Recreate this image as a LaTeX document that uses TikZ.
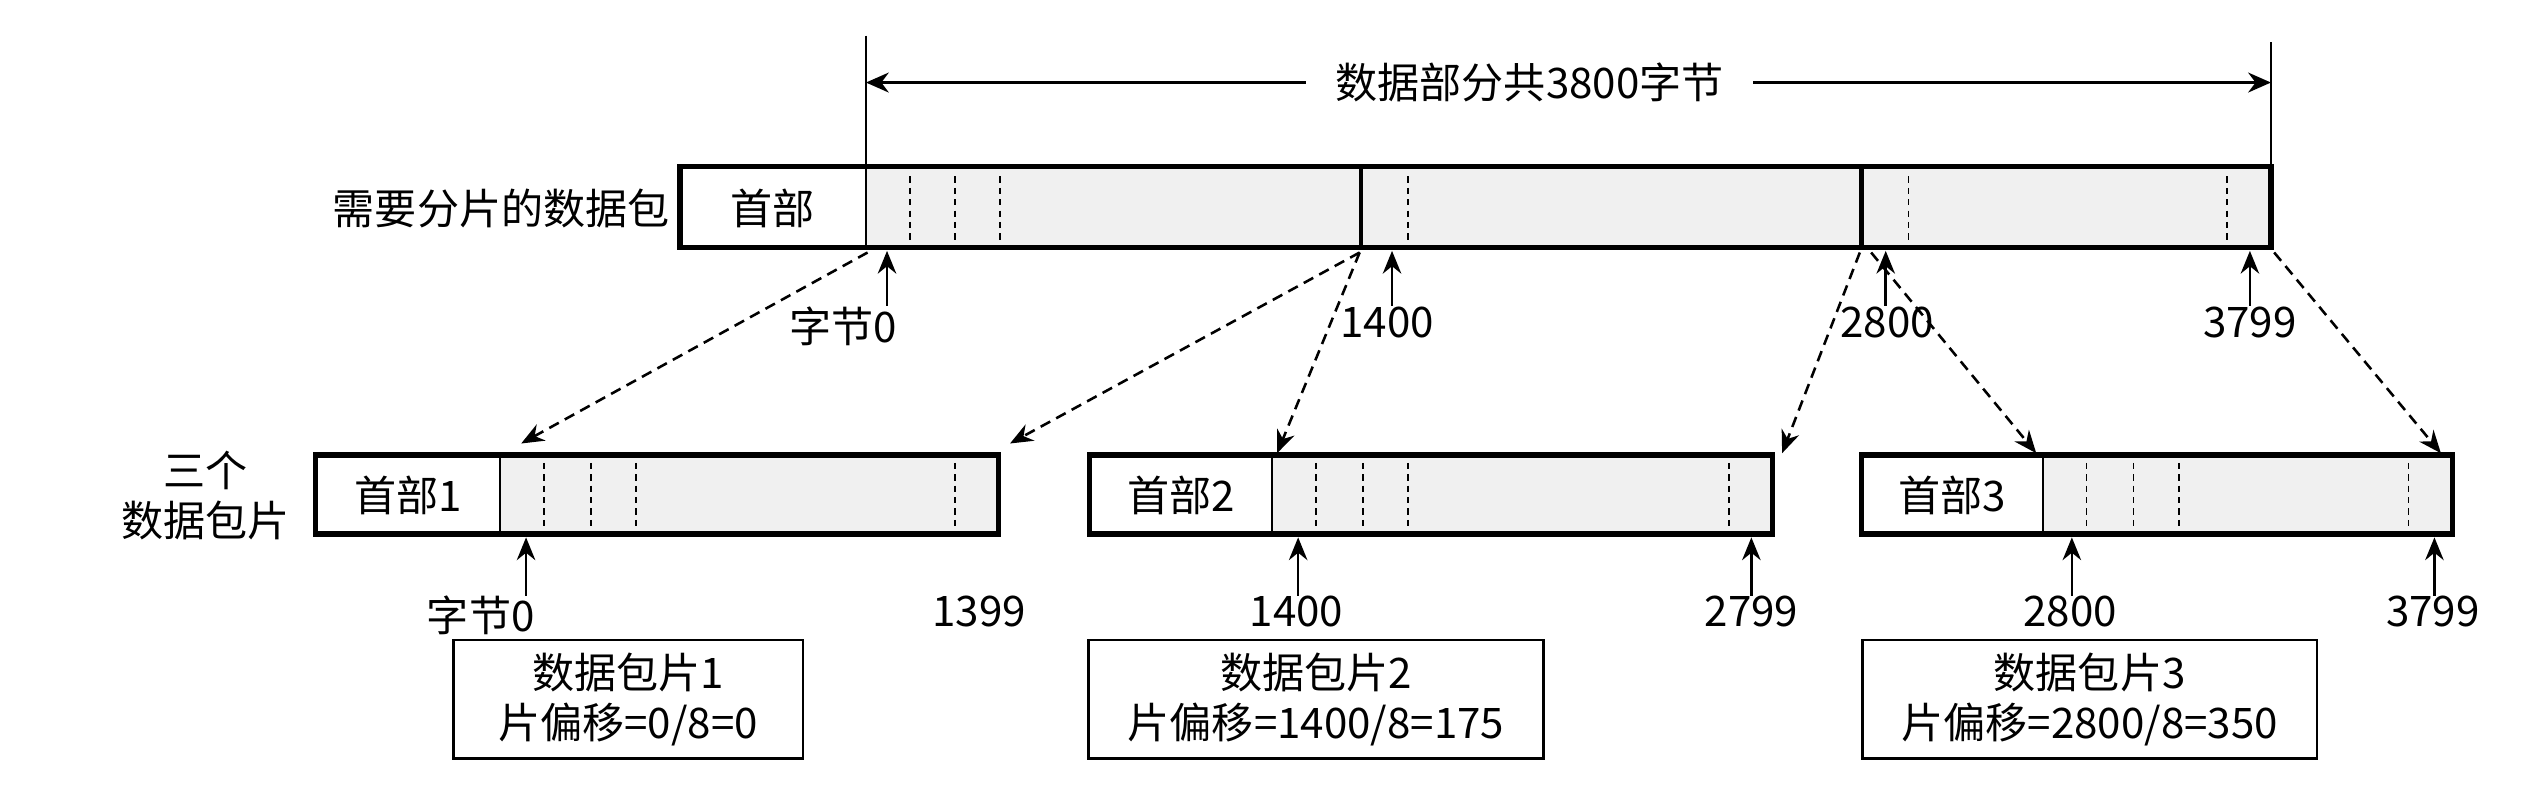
\documentclass[tikz,border=0pt]{standalone}
\usepackage{fontspec}
\setmainfont{Noto Sans CJK SC}
\usetikzlibrary{arrows.meta}
\definecolor{pktgray}{HTML}{F0F0F0}

\begin{document}
\begin{tikzpicture}[x=0.02cm, y=-0.02cm, font=\fontsize{14.8}{17.6}\selectfont,
    barframe/.style={line width=1.9pt},
    cutline/.style={line width=1.5pt},
    hdrline/.style={line width=0.8pt},
    byteline/.style={line width=0.6pt, dash pattern=on 2.2pt off 1.8pt},
    ptr/.style={line width=0.9pt, -{Stealth[length=8pt, width=6.5pt]}},
    maparrow/.style={line width=0.9pt, dash pattern=on 3.8pt off 2.4pt, -{Stealth[length=8pt, width=6.5pt]}},
    numlbl/.style={inner sep=0pt, anchor=north},
    infobox/.style={draw, line width=0.9pt, minimum width=#1, minimum height=1.46cm, align=center}]
  \useasboundingbox (0,0) rectangle (1568,489);

  % total length of the data part
  \coordinate (topL) at (535,22);
  \coordinate (topR) at (1403,26);
  \coordinate (barL) at (535,103);
  \coordinate (barR) at (1403,103);
  \draw[line width=0.6pt] (topL) -- (barL);
  \draw[line width=0.6pt] (topR) -- (barR);
  \coordinate (dimL) at (535,51);
  \coordinate (dimR) at (1403,51);
  \node[inner xsep=0.36cm] (total) at (945,51) {数据部分共3800字节};
  \draw[line width=1pt, -{Stealth[length=8pt, width=7pt]}] (total) -- (dimL);
  \draw[line width=1pt, -{Stealth[length=8pt, width=7pt]}] (total) -- (dimR);

  % packet to be fragmented
  \fill[pktgray] (535,103) rectangle (1403,153);
  \foreach \x in {562,590,618,870,1179,1376}
    \draw[byteline] (\x,109) -- (\x,148);
  \draw[cutline] (841,103) -- (841,153) (1150,103) -- (1150,153);
  \draw[hdrline] (535,103) -- (535,153);
  \draw[barframe] (420,103) rectangle (1403,153);
  \node (mainhdr) at (477,129) {首部};
  \node[anchor=east, inner sep=0pt] (mainlbl) at (414,129) {需要分片的数据包};

  % byte numbers of the packet
  \coordinate (m0) at (548,155);
  \coordinate (m1) at (860,155);
  \coordinate (m2) at (1165,155);
  \coordinate (m3) at (1390,155);
  \node[numlbl] (m0lbl) at (521,189) {字节0};
  \node[numlbl] (m1lbl) at (857,189) {1400};
  \node[numlbl] (m2lbl) at (1166,189) {2800};
  \node[numlbl] (m3lbl) at (1390,189) {3799};
  \foreach \i in {0,...,3}
    \draw[ptr] (m\i lbl.north -| m\i) -- (m\i);

  % the three fragments
  \foreach \l/\h/\r/\n in {195/309/617/1, 673/786/1095/2, 1150/1262/1515/3}{
    \fill[pktgray] (\h,281) rectangle (\r,330);
    \foreach \d in {27,56,84}
      \draw[byteline] (\h+\d,286) -- (\h+\d,325);
    \draw[byteline] (\r-27,286) -- (\r-27,325);
    \draw[hdrline] (\h,281) -- (\h,330);
    \draw[barframe] (\l,281) rectangle (\r,330);
    \node (fhdr\n) at ({(\l+\h)/2},306) {首部\n};
  }
  \node[align=center] (fraglbl) at (127,306) {三个\\数据包片};

  % where the pieces go
  \coordinate (cut0) at (536,156);
  \coordinate (cut1) at (840,156);
  \coordinate (cut2) at (1149,156);
  \coordinate (cut2b) at (1156,156);
  \coordinate (cut3) at (1405,156);
  \coordinate (f1a) at (322,274);
  \coordinate (f1b) at (624,274);
  \coordinate (f2a) at (789,280);
  \coordinate (f2b) at (1101,280);
  \coordinate (f3a) at (1258,280);
  \coordinate (f3b) at (1508,280);
  \draw[maparrow] (cut0) -- (f1a);
  \draw[maparrow] (cut1) -- (f1b);
  \draw[maparrow] (cut1) -- (f2a);
  \draw[maparrow] (cut2) -- (f2b);
  \draw[maparrow] (cut2b) -- (f3a);
  \draw[maparrow] (cut3) -- (f3b);

  % byte numbers of the fragments
  \coordinate (f1p) at (325,332);
  \coordinate (f2p) at (802,332);
  \coordinate (f2q) at (1082,332);
  \coordinate (f3p) at (1280,332);
  \coordinate (f3q) at (1504,332);
  \node[numlbl] (f1lo) at (297,368) {字节0};
  \node[numlbl] (f1hi) at (605,368) {1399};
  \node[numlbl] (f2lo) at (801,368) {1400};
  \node[numlbl] (f2hi) at (1082,368) {2799};
  \node[numlbl] (f3lo) at (1279,368) {2800};
  \node[numlbl] (f3hi) at (1503,368) {3799};
  \draw[ptr] (f1lo.north -| f1p) -- (f1p);
  \draw[ptr] (f2lo.north -| f2p) -- (f2p);
  \draw[ptr] (f2hi.north -| f2q) -- (f2q);
  \draw[ptr] (f3lo.north -| f3p) -- (f3p);
  \draw[ptr] (f3hi.north -| f3q) -- (f3q);

  % fragment offsets
  \node[infobox=4.32cm] (info1) at (388,432) {数据包片1\\片偏移=0/8=0};
  \node[infobox=5.62cm] (info2) at (813,432) {数据包片2\\片偏移=1400/8=175};
  \node[infobox=5.62cm] (info3) at (1291,432) {数据包片3\\片偏移=2800/8=350};
\end{tikzpicture}
\end{document}
